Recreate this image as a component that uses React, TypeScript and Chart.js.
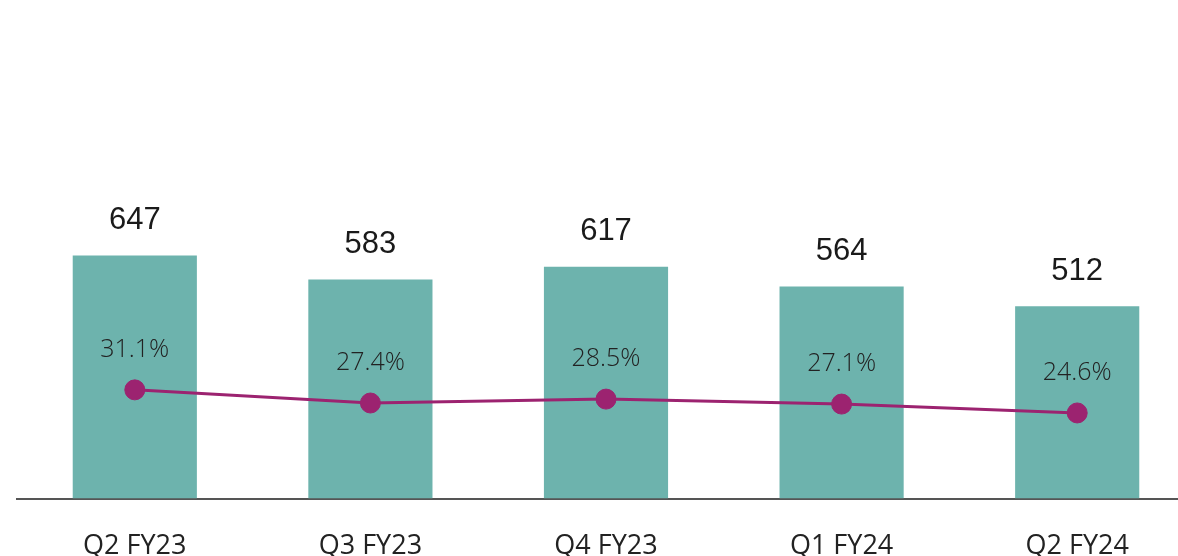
import React, { useEffect, useRef } from "react";
import { Chart, registerables } from "chart.js";

Chart.register(...registerables);

const categories = ["Q2 FY23", "Q3 FY23", "Q4 FY23", "Q1 FY24", "Q2 FY24"];
const barValues = [647, 583, 617, 564, 512];
const marginValues = [31.1, 27.4, 28.5, 27.1, 24.6];
const barLabels = ["647", "583", "617", "564", "512"];
const marginLabels = ["31.1%", "27.4%", "28.5%", "27.1%", "24.6%"];

const BAR_COLOR = "#6db3ad";
const LINE_COLOR = "#9c2370";

const labelPlugin = {
  id: "valueLabels",
  afterDatasetsDraw(chart: any) {
    const ctx = chart.ctx;
    ctx.save();
    ctx.textAlign = "center";
    ctx.textBaseline = "middle";
    const barMeta = chart.getDatasetMeta(1);
    ctx.font = "31px 'Liberation Sans', Arial, sans-serif";
    ctx.fillStyle = "#1a1a1a";
    barMeta.data.forEach((el: any, i: number) => {
      ctx.fillText(barLabels[i], el.x, el.y - 35);
    });
    const lineMeta = chart.getDatasetMeta(0);
    ctx.font = "300 25px 'Open Sans', sans-serif";
    ctx.fillStyle = "#222222";
    lineMeta.data.forEach((el: any, i: number) => {
      ctx.fillText(marginLabels[i], el.x, el.y - 40);
    });
    ctx.restore();
  },
};

export default function App() {
  const ref = useRef<HTMLCanvasElement | null>(null);
  useEffect(() => {
    document.body.style.overflow = "hidden";
    document.body.style.margin = "0";
    const chart = new Chart(ref.current as HTMLCanvasElement, {
      type: "bar",
      data: {
        labels: categories,
        datasets: [
          {
            type: "line",
            label: "Margin",
            data: marginValues,
            yAxisID: "y2",
            borderColor: LINE_COLOR,
            backgroundColor: LINE_COLOR,
            borderWidth: 3,
            pointRadius: 10,
            pointBorderWidth: 1,
            pointBackgroundColor: LINE_COLOR,
            pointBorderColor: LINE_COLOR,
            tension: 0,
            order: 0,
          } as any,
          {
            type: "bar",
            label: "Value",
            data: barValues,
            yAxisID: "y",
            backgroundColor: BAR_COLOR,
            barPercentage: 0.527,
            categoryPercentage: 1,
            order: 1,
          },
        ],
      },
      options: {
        animation: false,
        responsive: false,
        maintainAspectRatio: false,
        layout: { autoPadding: false, padding: { left: 17, right: 0, top: 10, bottom: 0 } },
        plugins: { legend: { display: false }, tooltip: { enabled: false } },
        scales: {
          x: {
            grid: { display: false, drawTicks: false },
            border: { display: true, color: "#555555", width: 2 },
            ticks: {
              color: "#222222",
              padding: 32,
              font: { family: "'Open Sans', sans-serif", size: 27 },
            },
          },
          y: {
            display: false,
            min: 0,
            max: 1300,
          },
          y2: {
            display: false,
            min: 0.5,
            max: 138,
          },
        },
      },
      plugins: [labelPlugin],
    });
    return () => chart.destroy();
  }, []);
  return (
    <div style={{ width: 1195, height: 595, overflow: "hidden" }}>
      <canvas ref={ref} width={1195} height={595} style={{ display: "block" }} />
    </div>
  );
}
